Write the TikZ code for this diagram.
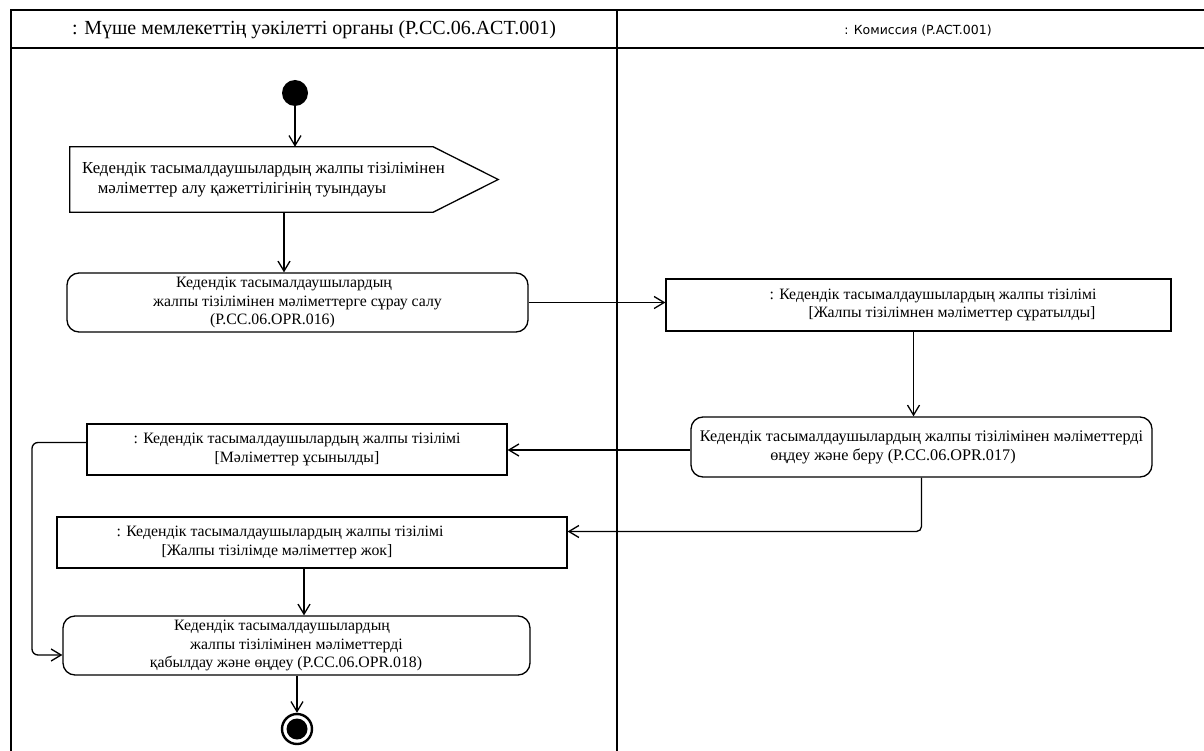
\documentclass[tikz,border=0pt]{standalone}
\usepackage{fontspec}
\setmainfont{Liberation Serif}
\newfontfamily\lanesans{DejaVu Sans}
\usepackage{tikz}
\usetikzlibrary{arrows.meta}

\begin{document}
\begin{tikzpicture}[
    x=1pt, y=-1pt,
    lane/.style={line width=1.3pt},
    act/.style={draw, line width=1.3pt, rounded corners=12pt, align=center, inner sep=0pt, font=\fontsize{15.8}{18.5}\selectfont},
    obj/.style={draw, line width=1.3pt, align=center, inner sep=0pt, font=\fontsize{15.8}{18.5}\selectfont},
    sig/.style={align=center, inner sep=0pt, minimum width=428pt, minimum height=65pt, font=\fontsize{16.8}{20}\selectfont},
    flow/.style={line width=1.3pt, -{Straight Barb[length=10pt,width=12pt]}}
  ]
  \useasboundingbox (0,0) rectangle (1204,751);

  % Lanes
  \draw[lane] (11,751) -- (11,10) -- (1204,10);
  \draw[lane] (11,48) -- (1204,48);
  \draw[lane] (617,10) -- (617,751);
  \node[font=\fontsize{20}{24}\selectfont] (laneA) at (314,30) {: Мүше мемлекеттің уәкілетті органы (P.CC.06.ACT.001)};
  \node[font=\lanesans\fontsize{12.5}{15}\selectfont] (laneB) at (918,31) {: Комиссия (P.ACT.001)};

  % Start and signal
  \node[circle, fill, inner sep=0pt, minimum size=26pt] (start) at (295,93) {};
  \node[sig] (need) at (284,179.5) {Кедендік тасымалдаушылардың жалпы тізілімінен\hspace*{41pt}\\мәліметтер алу қажеттілігінің туындауы\hspace*{84pt}};
  \draw[line width=1.3pt] (need.north west) -- ([xshift=-65pt]need.north east) -- (need.east)
    -- ([xshift=-65pt]need.south east) -- (need.south west) -- cycle;

  % Request
  \node[act, minimum width=461pt, minimum height=59pt] (ask) at (297.5,302.5) {Кедендік тасымалдаушылардың\hspace*{27pt}\\жалпы тізілімінен мәліметтерге сұрау салу\hspace*{29pt}\\(P.CC.06.OPR.016)\hspace*{50pt}};
  \node[obj, minimum width=505pt, minimum height=52pt] (req) at (918.5,305) {\hspace*{29pt}: Кедендік тасымалдаушылардың жалпы тізілімі\\\hspace*{67pt}[Жалпы тізілімнен мәліметтер сұратылды]};

  % Processing
  \node[act, minimum width=461pt, minimum height=60pt, font=\fontsize{16.2}{19}\selectfont] (proc) at (921.5,447) {Кедендік тасымалдаушылардың жалпы тізілімінен мәліметтерді\\өңдеу және беру (P.CC.06.OPR.017)\hspace*{57pt}};
  \node[obj, minimum width=420pt, minimum height=51pt] (given) at (297,449.5) {: Кедендік тасымалдаушылардың жалпы тізілімі\\{}[Мәліметтер ұсынылды]};
  \node[obj, minimum width=510pt, minimum height=51pt] (none) at (312,542.5) {: Кедендік тасымалдаушылардың жалпы тізілімі\hspace*{64pt}\\{}[Жалпы тізілімде мәліметтер жок]\hspace*{70pt}};

  % Receive and end
  \node[act, minimum width=467pt, minimum height=59pt] (recv) at (296.5,645.5) {Кедендік тасымалдаушылардың\hspace*{29pt}\\жалпы тізілімінен мәліметтерді\hspace*{29pt}\\қабылдау және өңдеу (P.CC.06.OPR.018)\hspace*{21pt}};
  \node[circle, draw, line width=2.4pt, inner sep=0pt, minimum size=30pt] (stop) at (297,729) {};
  \fill (stop.center) circle (10.5pt);

  \coordinate (back) at (32,550);

  \draw[flow] (start.south) -- (start |- need.north);
  \draw[flow] (need.south) -- (need.south |- ask.north);
  \draw[flow] (ask.east) -- (ask.east -| req.west);
  \draw[flow] ([xshift=-5pt]req.south) -- ([xshift=-5pt]req.south |- proc.north);
  \draw[flow] ([yshift=-3pt]proc.west) -- ([yshift=-3pt]proc.west -| given.east);
  \draw[flow, rounded corners=5pt] (proc.south) |- ([yshift=11pt]none.east);
  \draw[flow] ([xshift=-8pt]none.south) -- ([xshift=-8pt]none.south |- recv.north);
  \draw[flow, rounded corners=6pt] ([yshift=7pt]given.west) -| (back) |- ([yshift=-9.5pt]recv.west);
  \draw[flow] (recv.south -| stop.north) -- (stop.north);
\end{tikzpicture}
\end{document}
